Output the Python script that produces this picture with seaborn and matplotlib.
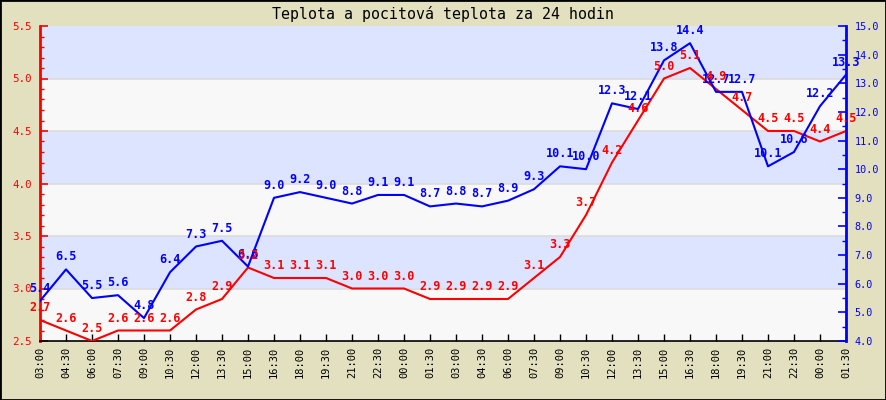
import matplotlib
matplotlib.use("Agg")
import matplotlib.pyplot as plt
import seaborn as sns
import pandas as pd
import numpy as np
from matplotlib.ticker import MultipleLocator, FormatStrFormatter
from matplotlib.patches import Rectangle

times = ["03:00", "04:30", "06:00", "07:30", "09:00", "10:30", "12:00", "13:30",
         "15:00", "16:30", "18:00", "19:30", "21:00", "22:30", "00:00", "01:30",
         "03:00", "04:30", "06:00", "07:30", "09:00", "10:30", "12:00", "13:30",
         "15:00", "16:30", "18:00", "19:30", "21:00", "22:30", "00:00", "01:30"]
feels = [2.7, 2.6, 2.5, 2.6, 2.6, 2.6, 2.8, 2.9, 3.2, 3.1, 3.1, 3.1, 3.0, 3.0, 3.0, 2.9,
         2.9, 2.9, 2.9, 3.1, 3.3, 3.7, 4.2, 4.6, 5.0, 5.1, 4.9, 4.7, 4.5, 4.5, 4.4, 4.5]
temps = [5.4, 6.5, 5.5, 5.6, 4.8, 6.4, 7.3, 7.5, 6.6, 9.0, 9.2, 9.0, 8.8, 9.1, 9.1, 8.7,
         8.8, 8.7, 8.9, 9.3, 10.1, 10.0, 12.3, 12.1, 13.8, 14.4, 12.7, 12.7, 10.1, 10.6, 12.2, 13.3]
title = "Teplota a pocitová teplota za 24 hodin"

df = pd.DataFrame({"idx": np.arange(len(times)), "feels": feels, "temp": temps})

sns.set_theme(style="white")
mono = ["DejaVu Sans Mono", "DejaVu Sans"]
plt.rcParams["font.family"] = mono

W, H = 886, 400
fig = plt.figure(figsize=(W / 100, H / 100), dpi=100, facecolor="#E2E0BE")
ax = fig.add_axes([40 / W, (H - 341) / H, (846 - 40) / W, (341 - 26) / H])
ax.set_facecolor("#F8F8F8")

# background bands
bands = np.arange(2.5, 5.5, 0.5)
for i, b in enumerate(bands):
    ax.axhspan(b, b + 0.5, color="#DDE4FF" if i % 2 == 1 else "#F8F8F8", zorder=0, lw=0)
for b in np.arange(3.0, 5.5, 0.5):
    ax.axhline(b, color="#DCDCDC", lw=1.2, zorder=0.5)

sns.lineplot(data=df, x="idx", y="feels", ax=ax, color="#FF0000", lw=1.5, zorder=3)
ax2 = ax.twinx()
sns.lineplot(data=df, x="idx", y="temp", ax=ax2, color="#0000FF", lw=1.5, zorder=3)

ax.set_xlim(0, len(times) - 1)
ax.set_ylim(2.5, 5.5)
ax2.set_ylim(4.0, 15.0)
ax.set_xticks(df["idx"])
ax.set_xticklabels(times, rotation=90, fontsize=7.5, color="black")
ax.set_xlabel("")
ax.set_ylabel("")
ax2.set_ylabel("")

ax.yaxis.set_major_locator(MultipleLocator(0.5))
ax.yaxis.set_minor_locator(MultipleLocator(0.1))
ax.yaxis.set_major_formatter(FormatStrFormatter("%.1f"))
ax2.yaxis.set_major_locator(MultipleLocator(1.0))
ax2.yaxis.set_minor_locator(MultipleLocator(0.5))
ax2.yaxis.set_major_formatter(FormatStrFormatter("%.1f"))

ax.tick_params(axis="y", which="major", direction="in", length=6, width=1.2, colors="#FF0000",
               labelsize=7.8, pad=6, left=True)
ax.tick_params(axis="y", which="minor", direction="in", length=3, width=1, colors="#FF0000", left=True)
ax.tick_params(axis="x", which="major", direction="in", length=5, width=1, colors="black",
               labelsize=7.5, pad=4, bottom=True)
ax2.tick_params(axis="y", which="major", direction="in", length=6, width=1.2, colors="#0000FF",
                labelsize=7.3, pad=6, right=True)
ax2.tick_params(axis="y", which="minor", direction="in", length=3, width=1, colors="#0000FF", right=True)
for lab in ax.get_yticklabels():
    lab.set_color("#FF0000")
for lab in ax2.get_yticklabels():
    lab.set_color("#0000FF")

for a in (ax, ax2):
    for s in ("top", "left", "right", "bottom"):
        a.spines[s].set_visible(False)
ax.spines["left"].set_visible(True)
ax.spines["left"].set_color("#FF0000")
ax.spines["left"].set_linewidth(2)
ax.spines["bottom"].set_visible(True)
ax.spines["bottom"].set_color("black")
ax.spines["bottom"].set_linewidth(1.2)
ax2.spines["right"].set_visible(True)
ax2.spines["right"].set_color("#0000FF")
ax2.spines["right"].set_linewidth(2)
ax.grid(False)
ax2.grid(False)

for i, v in enumerate(temps):
    ax2.annotate(f"{v:.1f}", (i, v), xytext=(0, 4.3), textcoords="offset points",
                 ha="center", va="bottom", fontsize=8.5, fontweight="bold",
                 color="#0000FF", family=mono, zorder=5, annotation_clip=False)
for i, v in enumerate(feels):
    ax2.annotate(f"{v:.1f}", ax2.transData.inverted().transform(ax.transData.transform((i, v))),
                 xytext=(0, 4.3), textcoords="offset points",
                 ha="center", va="bottom", fontsize=8.5, fontweight="bold",
                 color="#FF0000", family=mono, zorder=5, annotation_clip=False)

fig.text(0.5, (H - 14) / H, title, ha="center", va="center", fontsize=10.7, color="black", family=mono)
fig.patches.append(Rectangle((0, 0), 1, 1, transform=fig.transFigure, fill=False,
                             edgecolor="black", lw=2))

fig.savefig("out.png", dpi=100, facecolor=fig.get_facecolor())
